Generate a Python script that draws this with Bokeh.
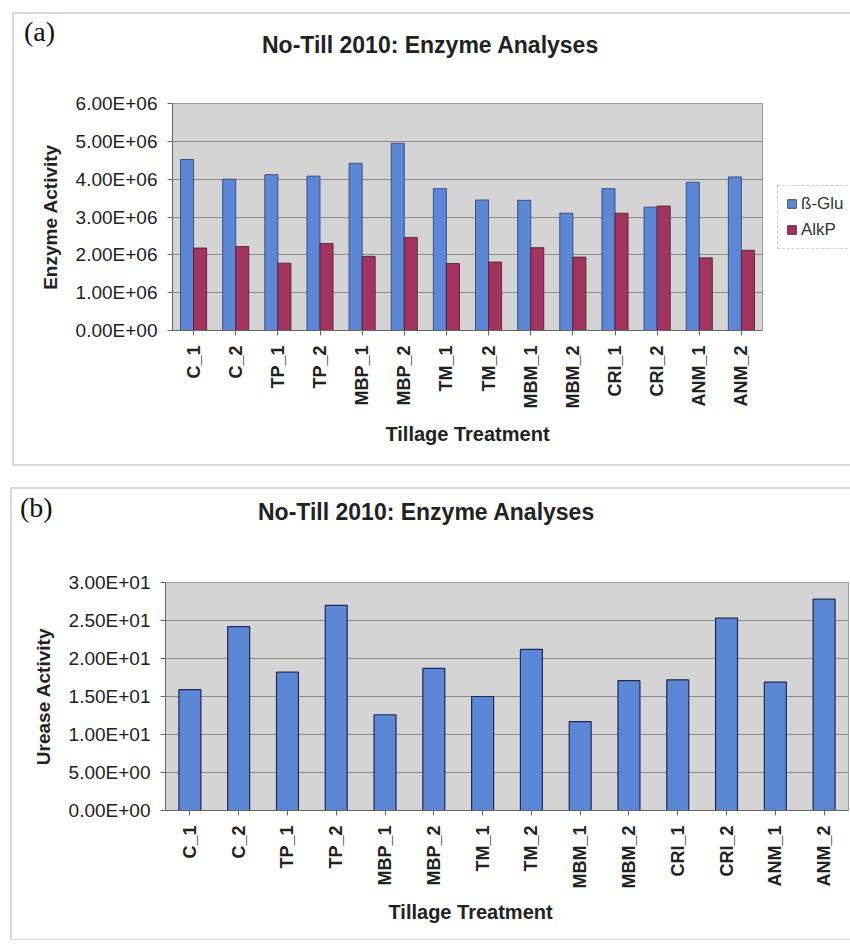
from bokeh.plotting import figure
from bokeh.layouts import column
from bokeh.models import (FactorRange, Range1d, FixedTicker, Legend, LegendItem,
                          ColumnDataSource, Div, Title)
from bokeh.transform import dodge
from bokeh.embed import file_html
from bokeh.resources import INLINE
from math import pi

# ---------------- data ----------------
treatments = ["C_1", "C_2", "TP_1", "TP_2", "MBP_1", "MBP_2", "TM_1", "TM_2",
              "MBM_1", "MBM_2", "CRI_1", "CRI_2", "ANM_1", "ANM_2"]
beta_glu = [4.52e6, 4.00e6, 4.12e6, 4.08e6, 4.42e6, 4.95e6, 3.75e6, 3.45e6,
            3.44e6, 3.10e6, 3.75e6, 3.26e6, 3.92e6, 4.06e6]
alkp = [2.18e6, 2.22e6, 1.78e6, 2.30e6, 1.96e6, 2.46e6, 1.77e6, 1.81e6,
        2.19e6, 1.94e6, 3.10e6, 3.29e6, 1.92e6, 2.12e6]
urease = [15.9, 24.2, 18.2, 27.0, 12.6, 18.7, 15.0, 21.2,
          11.7, 17.1, 17.2, 25.3, 16.9, 27.8]

series_names = ["ß-Glu", "AlkP"]
ticks_a = [0, 1e6, 2e6, 3e6, 4e6, 5e6, 6e6]
tick_labels_a = ["0.00E+00", "1.00E+06", "2.00E+06", "3.00E+06", "4.00E+06", "5.00E+06", "6.00E+06"]
ticks_b = [0, 5, 10, 15, 20, 25, 30]
tick_labels_b = ["0.00E+00", "5.00E+00", "1.00E+01", "1.50E+01", "2.00E+01", "2.50E+01", "3.00E+01"]

title_text = "No-Till 2010: Enzyme Analyses"
xlabel = "Tillage Treatment"
panel_tags = ["(a)", "(b)"]

BLUE = "#5b87d6"
RED = "#a3345f"
BG = "#d4d4d4"
GRID = "#8a8a8a"
FONT = "Liberation Sans"
W = 850


def style(p, ticks, labels, ylabel):
    p.background_fill_color = BG
    p.border_fill_alpha = 0
    p.outline_line_color = "#9a9a9a"
    p.xgrid.grid_line_color = None
    p.ygrid.grid_line_color = GRID
    p.ygrid.grid_line_width = 1
    p.yaxis.ticker = FixedTicker(ticks=ticks)
    p.yaxis.major_label_overrides = {t: l for t, l in zip(ticks, labels)}
    p.yaxis.minor_tick_line_color = None
    for ax in (p.xaxis, p.yaxis):
        ax.axis_line_color = "#666666"
        ax.major_tick_line_color = "#666666"
        ax.major_tick_out = 5
        ax.major_tick_in = 0
        ax.axis_label_text_font = FONT
        ax.axis_label_text_font_style = "bold"
        ax.axis_label_text_color = "#222222"
        ax.major_label_text_font = FONT
        ax.major_label_text_color = "#222222"
    p.yaxis.axis_label_text_font_size = "19px"
    p.xaxis.axis_label_text_font_size = "20px"
    p.yaxis.major_label_text_font_size = "19px"
    p.xaxis.major_label_text_font_size = "18px"
    p.xaxis.major_label_text_font_style = "bold"
    p.xaxis.major_label_orientation = pi / 2
    p.xaxis.major_label_standoff = 10
    p.yaxis.axis_label = ylabel
    p.yaxis.axis_label_standoff = 12
    p.yaxis.major_label_standoff = 10


def header(tag, tag_left, tag_top, title_left, title_top, height):
    html = (
        f'<div style="position:relative;width:{W}px;height:{height}px;">'
        f'<span style="position:absolute;left:{tag_left}px;top:{tag_top}px;'
        f'font-family:\'Liberation Serif\';font-size:28px;line-height:1;color:#111;">{tag}</span>'
        f'<span style="position:absolute;left:{title_left}px;top:{title_top}px;white-space:nowrap;'
        f'font-family:\'Liberation Sans\';font-weight:bold;font-size:23px;line-height:1;color:#222;">'
        f'{title_text}</span></div>'
    )
    return Div(text=html, width=W, height=height, margin=0)


def panel_styles(left, top, bottom):
    g = "linear-gradient(#d9d9d9,#d9d9d9)"
    return {
        "background-image": f"{g}, {g}, {g}",
        "background-repeat": "no-repeat",
        "background-size": f"{W - left}px 2px, {W - left}px 2px, 2px {bottom - top + 2}px",
        "background-position": f"{left}px {top}px, {left}px {bottom}px, {left}px {top}px",
    }


# ---------------- panel (a) ----------------
src_a = ColumnDataSource(dict(t=treatments, b=beta_glu, a=alkp))
pa = figure(frame_width=590, frame_height=227,
            x_range=FactorRange(*treatments), y_range=Range1d(0, 6e6),
            output_backend="svg", toolbar_location=None, margin=0,
            min_border_left=172, min_border_right=88, min_border_top=13, min_border_bottom=148)
pa.x_range.range_padding = 0
style(pa, ticks_a, tick_labels_a, "Enzyme Activity")
pa.xaxis.axis_label = xlabel
pa.xaxis.axis_label_standoff = 11
r1 = pa.vbar(x=dodge("t", -0.155, range=pa.x_range), top="b", width=0.31, source=src_a,
             fill_color=BLUE, line_color="#2a3a70", line_width=0.8)
r2 = pa.vbar(x=dodge("t", 0.155, range=pa.x_range), top="a", width=0.31, source=src_a,
             fill_color=RED, line_color="#4a1a2a", line_width=0.8)
leg = Legend(items=[LegendItem(label=series_names[0], renderers=[r1]),
                    LegendItem(label=series_names[1], renderers=[r2])],
             location="center_left", orientation="vertical",
             label_text_font=FONT, label_text_font_size="17px", label_text_color="#333333",
             glyph_width=11, glyph_height=11, label_standoff=4, spacing=6,
             padding=8, margin=15, border_line_color="#a0a0a0", border_line_dash="2 1",
             background_fill_color="white")
pa.add_layout(leg, "right")
head_a = header(panel_tags[0], 24, 18, 262, 34, 90)
col_a = column(head_a, pa, spacing=0, margin=0, styles=panel_styles(12, 12, 464))

# ---------------- panel (b) ----------------
src_b = ColumnDataSource(dict(t=treatments, u=urease))
pb = figure(frame_width=683, frame_height=228,
            x_range=FactorRange(*treatments), y_range=Range1d(0, 30),
            output_backend="svg", toolbar_location=None, margin=0,
            min_border_left=165, min_border_right=2, min_border_top=14, min_border_bottom=130)
pb.x_range.range_padding = 0
style(pb, ticks_b, tick_labels_b, "Urease Activity")
pb.vbar(x="t", top="u", width=0.45, source=src_b,
        fill_color=BLUE, line_color="#1e2a55", line_width=1.2)
pb.add_layout(Title(text=xlabel, align="left", offset=223, standoff=14,
                    text_font=FONT, text_font_style="bold", text_font_size="20px",
                    text_color="#222222"), "below")
head_b = header(panel_tags[1], 20, 16, 258, 23, 90)
col_b = column(head_b, pb, spacing=0, margin=0, styles=panel_styles(10, 9, 461))

layout = column(col_a, col_b, spacing=0, margin=0)
open("out.html", "w").write(file_html(layout, INLINE))
